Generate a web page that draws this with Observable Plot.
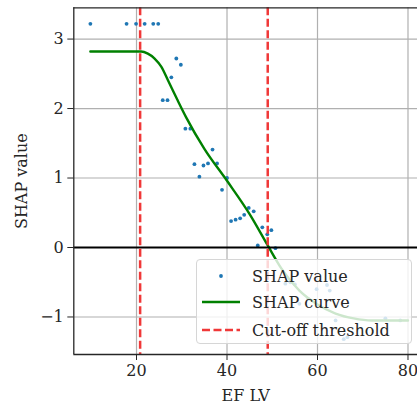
<!DOCTYPE html>
<html>
<head>
<meta charset="utf-8">
<script src="https://cdn.jsdelivr.net/npm/d3@7"></script>
<script src="https://cdn.jsdelivr.net/npm/@observablehq/plot@0.6"></script>
<style>
  body { margin: 0; background: #fff; }
  #wrap { position: relative; width: 417px; height: 410px; overflow: hidden; font-family: "DejaVu Serif", serif; }
  #wrap svg text { font-family: "DejaVu Serif", serif; font-variant-numeric: normal; }
  #legend { position: absolute; left: 196px; top: 259px; width: 216px; height: 85px; box-sizing: border-box;
    background: rgba(255,255,255,0.8); border: 1px solid #d6d6d6; border-radius: 4px; }
  .row { position: absolute; left: 0; height: 20px; display: flex; align-items: center; }
  .row span { position: absolute; left: 55px; font-size: 16px; color: #262626; white-space: nowrap; }
</style>
</head>
<body>
<div id="wrap"></div>
<script>
// Scatter of SHAP values
const shapX = [9.8, 17.8, 19.9, 21.8, 23.7, 24.8, 25.8, 26.85, 27.7, 28.8, 29.8, 30.8, 31.9, 32.8, 33.9, 34.8, 35.8, 36.8, 37.8, 38.9, 40.0, 40.9, 41.9, 42.9, 43.8, 44.8, 45.9, 46.8, 47.8, 48.9, 49.8, 50.7, 52.9, 54.0, 55.0, 56.0, 57.9, 59.8, 62.1, 62.7, 64.0, 65.8, 66.6, 75.0, 78.3];
const shapY = [3.22, 3.22, 3.22, 3.22, 3.22, 3.22, 2.12, 2.12, 2.45, 2.72, 2.63, 1.71, 1.71, 1.20, 1.02, 1.18, 1.21, 1.41, 1.21, 0.83, 1.00, 0.38, 0.40, 0.42, 0.47, 0.57, 0.52, 0.03, 0.29, 0.19, 0.25, -0.01, -0.52, -0.50, -0.53, -0.81, -0.74, -0.60, -0.54, -0.62, -1.05, -1.32, -1.29, -1.02, -1.05];
// Smoothed SHAP curve
const curveX = [9.8, 21, 22.5, 24, 25.5, 27, 29, 31, 35, 40, 45, 49, 52, 56, 60, 64, 68, 72, 76, 80];
const curveY = [2.82, 2.82, 2.79, 2.72, 2.60, 2.40, 2.13, 1.87, 1.42, 0.96, 0.48, 0.03, -0.30, -0.62, -0.82, -0.95, -1.02, -1.05, -1.05, -1.05];
// Cut-off thresholds
const thresholds = [20.8, 49];
const zeroLine = [0];
const xTicks = [20, 40, 60, 80];
const yTicks = [-1, 0, 1, 2, 3];
const xDomain = [6.14, 82.1];
const yDomain = [-1.54, 3.45];
const xLabel = "EF LV";
const yLabel = "SHAP value";
const legendLabels = ["SHAP value", "SHAP curve", "Cut-off threshold"];

const points = shapX.map((x, i) => ({x, y: shapY[i]}));
const curve = curveX.map((x, i) => ({x, y: curveY[i]}));
const fmt = d => (d < 0 ? "\u2212" : "") + Math.abs(d);

const ink = "#262626";
const font = "DejaVu Serif";
const chart = Plot.plot({
  width: 417, height: 410,
  marginLeft: 73.3, marginRight: 0, marginTop: 7.3, marginBottom: 56,
  style: {fontFamily: font, fontSize: "16px", color: ink, background: "white"},
  x: {domain: xDomain},
  y: {domain: yDomain},
  marks: [
    Plot.gridX(xTicks, {stroke: "#b0b0b0", strokeOpacity: 1, strokeWidth: 1.2}),
    Plot.gridY(yTicks, {stroke: "#b0b0b0", strokeOpacity: 1, strokeWidth: 1.2}),
    Plot.dot(points, {x: "x", y: "y", r: 1.9, fill: "#1f77b4", stroke: "none"}),
    Plot.line(curve, {x: "x", y: "y", stroke: "#008000", strokeWidth: 2.4, curve: "monotone-x"}),
    Plot.ruleY(zeroLine, {stroke: "black", strokeWidth: 2}),
    Plot.ruleX(thresholds, {stroke: "#f03838", strokeWidth: 2.5, strokeDasharray: "8,3.5"}),
    Plot.ruleX([xDomain[0]], {stroke: ink, strokeWidth: 1.3}),
    Plot.ruleY([yDomain[0]], {stroke: ink, strokeWidth: 1.3}),
    Plot.ruleY([yDomain[1]], {stroke: ink, strokeWidth: 1.3}),
    Plot.axisX(xTicks, {tickSize: 6, tickPadding: 4, stroke: ink, fontSize: 16, fontFamily: font, tickFormat: fmt, label: xLabel, labelAnchor: "center", labelArrow: "none", labelOffset: 46}),
    Plot.axisY(yTicks, {tickSize: 6, tickPadding: 4, stroke: ink, fontSize: 16, fontFamily: font, tickFormat: fmt, label: yLabel, labelAnchor: "center", labelArrow: "none", labelOffset: 58})
  ]
});
const wrap = document.getElementById("wrap");
wrap.appendChild(chart);

// Legend overlay
const legend = document.createElement("div");
legend.id = "legend";
const rowsTop = [6, 32, 60];
const swatches = [
  `<svg width="50" height="20"><circle cx="24" cy="10" r="1.9" fill="#1f77b4"/></svg>`,
  `<svg width="50" height="20"><line x1="5" x2="43" y1="10" y2="10" stroke="#008000" stroke-width="2.4"/></svg>`,
  `<svg width="50" height="20"><line x1="5" x2="43" y1="10" y2="10" stroke="#f03838" stroke-width="2.5" stroke-dasharray="8,3.5"/></svg>`
];
legendLabels.forEach((lab, i) => {
  const row = document.createElement("div");
  row.className = "row";
  row.style.top = rowsTop[i] + "px";
  row.innerHTML = swatches[i] + `<span>${lab}</span>`;
  legend.appendChild(row);
});
wrap.appendChild(legend);
</script>
</body>
</html>
